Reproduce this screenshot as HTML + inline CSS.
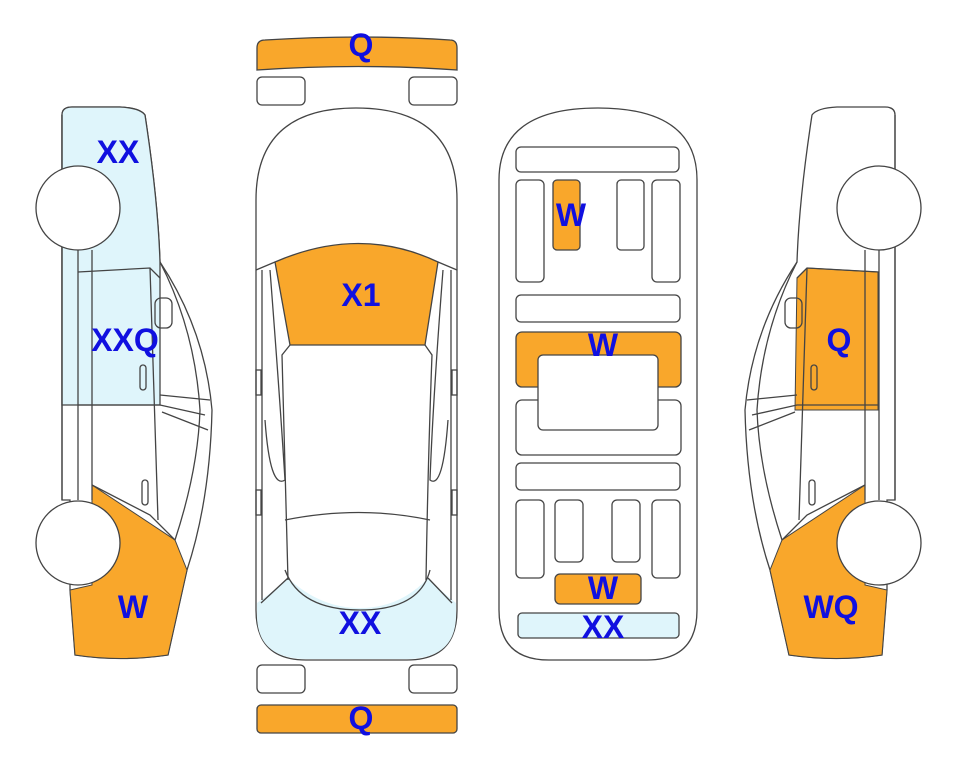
<!DOCTYPE html>
<html><head><meta charset="utf-8"><style>
html,body{margin:0;padding:0;background:#fff;}
svg{display:block;}
text{font-family:"Liberation Sans",Arial,sans-serif;font-weight:bold;font-size:32px;fill:#1010e0;text-anchor:middle;}
</style></head><body>
<svg width="963" height="768" viewBox="0 0 963 768" xmlns="http://www.w3.org/2000/svg">
<defs>
<g id="sideBase" stroke="#444" stroke-width="1.3" fill="none">
  <path d="M62,115 Q62,107 72,107 L120,107 Q140,108 145,115 Q158,200 160,262 Q205,330 212,410 Q210,500 187,570 L168,655 Q120,662 75,655 L70,590 L70,500 L62,500 Z" fill="#fff"/>
</g>
<g id="sideLines" stroke="#444" stroke-width="1.3" fill="none">
  <path d="M62,500 L62,115"/>
  <path d="M78,250 L78,500 M92,250 L92,500"/>
  <path d="M78,272 L150,268 L160,278"/>
  <path d="M150,268 L158,520"/>
  <path d="M78,405 L160,405 L205,415"/>
  <path d="M160,262 Q195,330 200,410 Q198,470 175,540"/>
  <path d="M92,485 L150,515 L175,540"/>
  <path d="M160,395 L210,400"/>
  <path d="M162,412 L208,430"/>
  <rect x="155" y="298" width="17" height="30" rx="6"/>
  <rect x="140" y="365" width="6" height="25" rx="3"/>
  <rect x="142" y="480" width="6" height="25" rx="3"/>
  <circle cx="78" cy="208" r="42" fill="#fff"/>
  <circle cx="78" cy="543" r="42" fill="#fff"/>
</g>
</defs>

<use href="#sideBase"/>
<path d="M62,115 Q62,107 72,107 L120,107 Q140,108 145,115 Q158,200 160,262 L160,405 L62,405 Z" fill="#dff5fb" stroke="#444" stroke-width="1.3"/>
<path d="M92,485 L175,540 L187,570 L168,655 Q120,662 75,655 L70,590 L92,585 Z" fill="#f9a72b" stroke="#444" stroke-width="1"/>
<use href="#sideLines"/>

<g transform="translate(957,0) scale(-1,1)">
<use href="#sideBase"/>
<path d="M79,272 L150,268 L160,278 L162,410 L79,410 Z" fill="#f9a72b" stroke="#444" stroke-width="1"/>
<path d="M92,485 L175,540 L187,570 L168,655 Q120,662 75,655 L70,590 L92,585 Z" fill="#f9a72b" stroke="#444" stroke-width="1"/>
<use href="#sideLines"/>
</g>

<g stroke="#444" stroke-width="1.3" fill="#fff">
  <path d="M257,48 Q257,40 265,40 Q360,34 450,40 Q457,40 457,48 L457,70 Q360,63 257,70 Z" fill="#f9a72b"/>
  <rect x="257" y="77" width="48" height="28" rx="5"/>
  <rect x="409" y="77" width="48" height="28" rx="5"/>
  <rect x="257" y="665" width="48" height="28" rx="5"/>
  <rect x="409" y="665" width="48" height="28" rx="5"/>
  <rect x="257" y="705" width="200" height="28" rx="4" fill="#f9a72b"/>
  <path d="M256,200 Q256,108 356,108 Q457,108 457,200 L457,610 Q457,660 407,660 L306,660 Q256,660 256,610 Z"/>
  <path d="M257,603 Q275,590 288,578 Q320,608 360,608 Q400,608 428,578 Q440,590 456,603 L456,615 Q456,659 406,659 L307,659 Q257,659 257,615 Z" fill="#dff5fb" stroke="none"/>
  <path d="M261,603 L288,578 M452,603 L428,578" fill="none"/>
  <path d="M285,570 Q300,610 360,610 Q420,610 430,570" fill="none"/>
  <path d="M285,520 Q360,505 430,520" fill="none"/>
  <path d="M275,262 Q360,225 438,262 L425,345 L290,345 Z" fill="#f9a72b"/>
  <path d="M256,270 L275,262 M457,270 L438,262" fill="none"/>
  <path d="M290,345 L282,355 Q285,460 288,580 M425,345 L432,355 Q428,460 426,580" fill="none"/>
  <path d="M262,270 L262,600 M270,270 Q280,400 285,480 Q270,490 265,420 M451,270 L451,600 M443,270 Q433,400 430,480 Q443,490 448,420" fill="none"/>
  <rect x="256" y="370" width="5" height="25" fill="none"/>
  <rect x="452" y="370" width="5" height="25" fill="none"/>
  <rect x="256" y="490" width="5" height="25" fill="none"/>
  <rect x="452" y="490" width="5" height="25" fill="none"/>
</g>

<g stroke="#444" stroke-width="1.3" fill="#fff">
  <path d="M499,180 Q499,108 598,108 Q697,108 697,180 L697,610 Q697,660 647,660 L549,660 Q499,660 499,610 Z"/>
  <rect x="516" y="147" width="163" height="25" rx="5"/>
  <rect x="516" y="180" width="28" height="102" rx="5"/>
  <rect x="553" y="180" width="27" height="70" rx="4" fill="#f9a72b"/>
  <rect x="617" y="180" width="27" height="70" rx="4"/>
  <rect x="652" y="180" width="28" height="102" rx="5"/>
  <rect x="516" y="295" width="164" height="27" rx="5"/>
  <rect x="516" y="400" width="165" height="55" rx="6"/>
  <rect x="516" y="332" width="165" height="55" rx="6" fill="#f9a72b"/>
  <rect x="538" y="355" width="120" height="75" rx="5"/>
  <rect x="516" y="463" width="164" height="27" rx="5"/>
  <rect x="516" y="500" width="28" height="78" rx="5"/>
  <rect x="555" y="500" width="28" height="62" rx="5"/>
  <rect x="612" y="500" width="28" height="62" rx="5"/>
  <rect x="652" y="500" width="28" height="78" rx="5"/>
  <rect x="555" y="574" width="86" height="30" rx="5" fill="#f9a72b"/>
  <rect x="518" y="613" width="161" height="25" rx="4" fill="#dff5fb"/>
</g>

<text x="118" y="163">XX</text>
<text x="125" y="351">XXQ</text>
<text x="133" y="618">W</text>
<text x="361" y="56">Q</text>
<text x="361" y="306">X1</text>
<text x="360" y="634">XX</text>
<text x="361" y="729">Q</text>
<text x="571" y="226">W</text>
<text x="603" y="356">W</text>
<text x="603" y="599">W</text>
<text x="603" y="638">XX</text>
<text x="839" y="351">Q</text>
<text x="831" y="618">WQ</text>
</svg>
</body></html>
